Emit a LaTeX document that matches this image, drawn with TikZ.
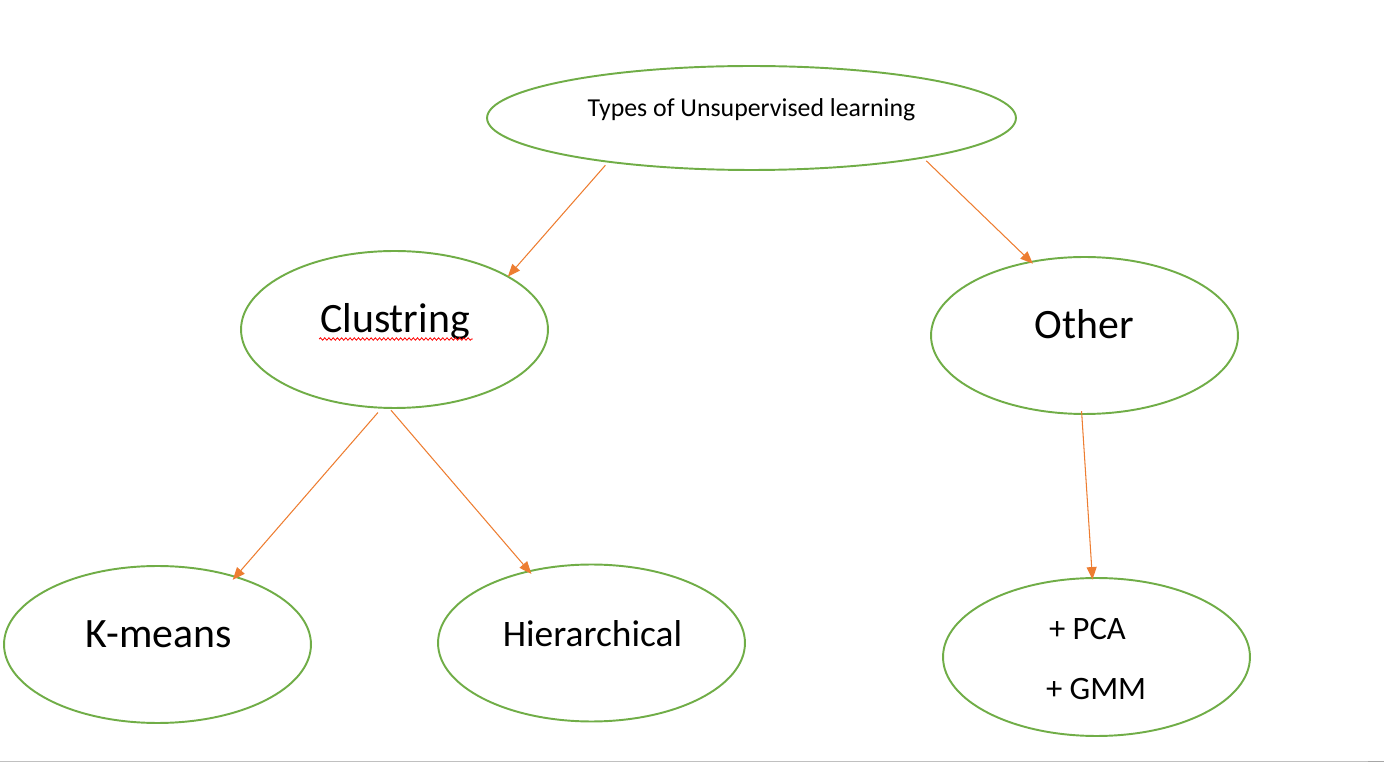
\documentclass[tikz,border=0pt]{standalone}
\usepackage{fontspec}
\setmainfont{Carlito}
\usetikzlibrary{shapes.geometric,arrows.meta,decorations.pathmorphing,calc}
\definecolor{wgreen}{HTML}{70AD47}
\definecolor{worange}{HTML}{ED7D31}
\definecolor{wgray}{HTML}{C0C0C0}
\definecolor{wgrayd}{HTML}{A6A6A6}
\begin{document}
\begin{tikzpicture}[x=0.02cm,y=-0.02cm,
  oval/.style={ellipse,draw=wgreen,line width=1.1pt,inner sep=0pt,outer sep=0pt,minimum width=6.14cm,minimum height=3.14cm},
  lbl/.style={inner sep=0pt,outer sep=0pt,text=black},
  link/.style={draw=worange,line width=0.6pt,-{Triangle[length=0.25cm,width=0.2cm]}},
  wavy/.style={draw=red,line width=0.45pt,decorate,decoration={snake,amplitude=0.7pt,segment length=2.4pt}}]
\useasboundingbox (0,0) rectangle (1384,763);
% page edge
\coordinate (pl) at (0,761.5);
\coordinate (pm) at (1368,761.5);
\coordinate (pr) at (1384,761.5);
\draw[wgray,line width=1.1pt] (pl) -- (pm);
\draw[wgrayd,line width=1.1pt] (pm) -- (pr);
% ellipses
\node[oval,minimum width=10.58cm,minimum height=2.08cm] (top) at (751.5,118) {};
\node[oval] (clu) at (394.5,329.5) {};
\node[oval] (oth) at (1084.5,335.5) {};
\node[oval] (km) at (157.5,644.5) {};
\node[oval] (hie) at (591.5,643) {};
\node[oval,minimum height=3.16cm] (pg) at (1096.5,657) {};
% texts
\node[lbl,anchor=base,font=\fontsize{14.7}{17}\selectfont] (ttop) at (751.5,117) {Types of Unsupervised learning};
\node[lbl,anchor=base,font=\fontsize{23.8}{28}\selectfont] (tclu) at (395,333) {Clustring};
\node[lbl,anchor=base,font=\fontsize{23.8}{28}\selectfont] (toth) at (1084.5,339) {Other};
\node[lbl,anchor=base,font=\fontsize{23.8}{28}\selectfont] (tkm) at (158.5,648) {K-means};
\node[lbl,anchor=base,font=\fontsize{21.3}{25}\selectfont] (thie) at (592.5,646) {Hierarchical};
\node[lbl,anchor=base west,font=\fontsize{18.6}{22}\selectfont] (tpca) at (1049,640) {+ PCA};
\node[lbl,anchor=base west,font=\fontsize{18.6}{22}\selectfont] (tgmm) at (1046,700) {+ GMM};
% spell-check underline
\draw[wavy] ($(tclu.base west)+(-1,6)$) -- ($(tclu.base east)+(3,6)$);
% connectors
\draw[link,shorten <=0.095cm] (top.-163.4) -- (clu.25.85);
\draw[link,shorten <=0.094cm,shorten >=-0.05cm] (top.-13.6) -- (oth.126.45);
\draw[link,shorten <=0.128cm,shorten >=-0.08cm] (clu.-99.63) -- (km.41.61);
\draw[link,shorten <=0.06cm,shorten >=-0.07cm] (clu.-94.5) -- (hie.131.56);
\draw[link,shorten <=-0.056cm,shorten >=-0.03cm] (oth.-92.6) -- (pg.93.9);
\end{tikzpicture}
\end{document}
